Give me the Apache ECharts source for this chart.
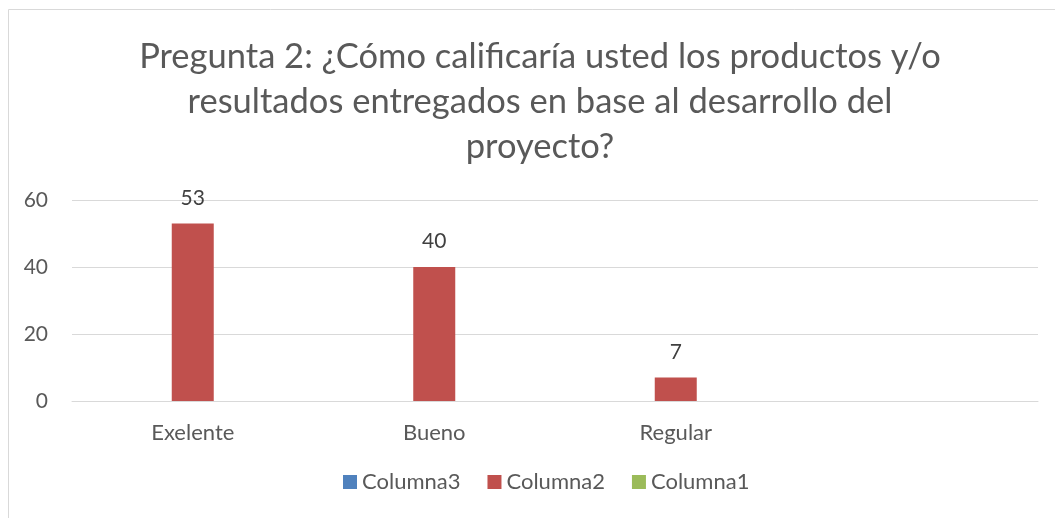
<!DOCTYPE html>
<html>
<head>
<meta charset="utf-8">
<script src="https://cdn.jsdelivr.net/npm/echarts@6/dist/echarts.min.js"></script>
<style>
  html, body { margin: 0; padding: 0; background: #fff; }
  #chart { width: 1055px; height: 518px; }
</style>
</head>
<body>
<div id="chart"></div>
<script>
// datos
const categorias = ['Exelente', 'Bueno', 'Regular', ''];
const columna3 = [null, null, null, null];
const columna2 = [53, 40, 7, null];
const columna1 = [null, null, null, null];
const ticksY = [0, 20, 40, 60];

const fuente = 'Lato';
const gris = '#595959';

let myChart = echarts.init(document.getElementById('chart'));

let etiqueta = {
    show: true,
    position: 'top',
    distance: 15,
    color: '#404040',
    fontFamily: fuente,
    fontSize: 21
};

let option = {
    animation: false,
    color: ['#4F81BD', '#C0504D', '#9BBB59'],
    graphic: [{
        type: 'rect',
        shape: { x: 8.5, y: 9.5, width: 1100, height: 600 },
        style: { fill: 'none', stroke: '#D9D9D9', lineWidth: 1 },
        silent: true
    }],
    title: {
        text: 'Pregunta 2: ¿Cómo calificaría usted los productos y/o\nresultados entregados en base al desarrollo del\nproyecto?',
        left: 535,
        textAlign: 'center',
        top: 29,
        textStyle: {
            color: gris,
            fontFamily: fuente,
            fontWeight: 'normal',
            fontSize: 34.5,
            lineHeight: 45
        }
    },
    grid: {
        left: 72,
        right: 17,
        top: 200,
        bottom: 117,
        containLabel: false
    },
    legend: {
        bottom: 20,
        left: 338,
        itemWidth: 14,
        itemHeight: 14,
        itemGap: 27,
        icon: 'rect',
        data: ['Columna3', 'Columna2', 'Columna1'],
        textStyle: {
            color: gris,
            fontFamily: fuente,
            fontSize: 22
        }
    },
    xAxis: [{
        type: 'category',
        data: categorias,
        axisTick: { show: false },
        axisLine: { show: true, lineStyle: { color: '#D9D9D9' } },
        axisLabel: {
            color: gris,
            fontFamily: fuente,
            fontSize: 22,
            margin: 21
        },
        splitLine: { show: false }
    }],
    yAxis: [{
        type: 'value',
        min: ticksY[0],
        max: ticksY[ticksY.length - 1],
        interval: 20,
        axisLine: { show: false },
        axisTick: { show: false },
        axisLabel: {
            color: gris,
            fontFamily: fuente,
            fontSize: 21,
            margin: 24
        },
        splitLine: { show: true, lineStyle: { color: '#D9D9D9' } }
    }],
    series: [{
            name: 'Columna3',
            type: 'bar',
            data: columna3,
            barWidth: 42,
            barGap: '0%',
            label: etiqueta
        },
        {
            name: 'Columna2',
            type: 'bar',
            data: columna2,
            barWidth: 42,
            barGap: '0%',
            label: etiqueta
        },
        {
            name: 'Columna1',
            type: 'bar',
            data: columna1,
            barWidth: 42,
            barGap: '0%',
            label: etiqueta
        }
    ]
};
myChart.setOption(option);
</script>
</body>
</html>
